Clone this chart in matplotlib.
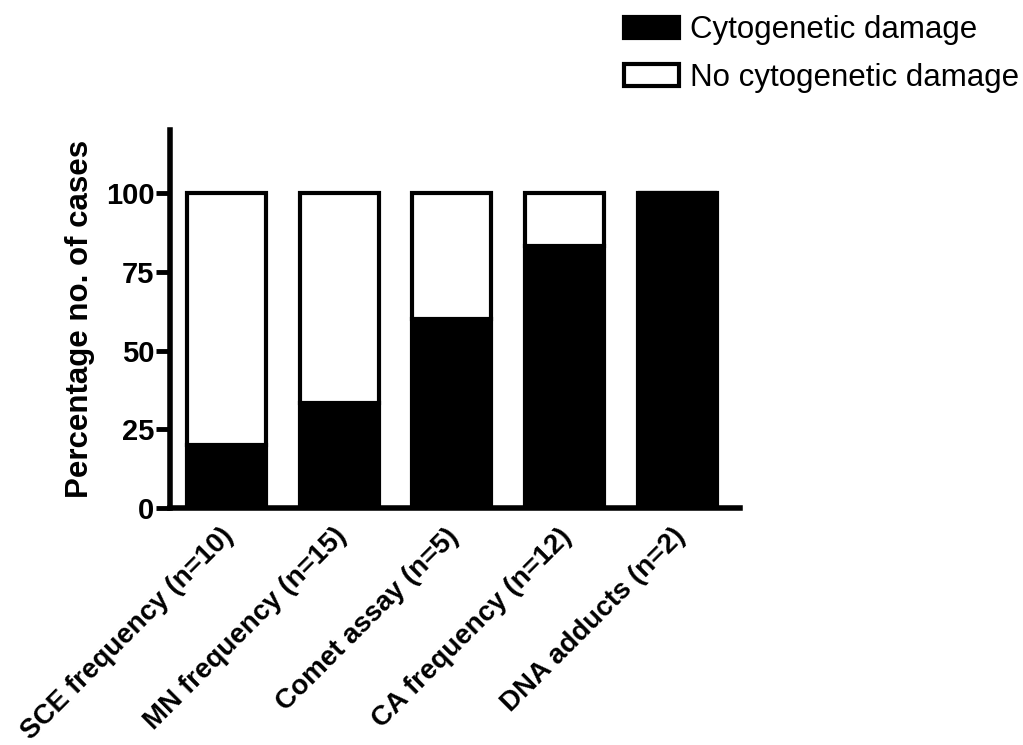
import matplotlib.pyplot as plt
import matplotlib.transforms as mtransforms
import numpy as np

plt.rcParams['font.family'] = ['Liberation Sans', 'DejaVu Sans']

# data
categories = ['SCE frequency', 'MN frequency', 'Comet assay', 'CA frequency', 'DNA adducts']
n_cases = [10, 15, 5, 12, 2]
damage = [20, 33.3, 60, 83.3, 100]
no_damage = [100 - d for d in damage]

labels = [f'{c} (n={n})' for c, n in zip(categories, n_cases)]

fig = plt.figure(figsize=(10.23, 7.45), dpi=100)
ax = fig.add_axes([0.166, 0.318, 0.557, 0.507])

x = np.arange(len(categories))
b1 = ax.bar(x, damage, width=0.7, color='black', edgecolor='black', linewidth=3,
            label='Cytogenetic damage')
b2 = ax.bar(x, no_damage, bottom=damage, width=0.7, color='white', edgecolor='black',
            linewidth=3, label='No cytogenetic damage')

ax.set_xlim(-0.5, 4.55)
ax.set_ylim(0, 120)
ax.set_yticks([0, 25, 50, 75, 100])
ax.set_yticklabels(['0', '25', '50', '75', '100'], fontsize=21, fontweight='bold')
ax.set_xticks(x)
ax.set_xticklabels(labels, rotation=45, ha='right', rotation_mode='anchor',
                   fontsize=20, fontweight='bold')
ax.tick_params(axis='x', length=0, pad=11)
ax.tick_params(axis='y', length=10, width=3.5, pad=1)
ax.set_ylabel('Percentage no. of cases', fontsize=22.5, fontweight='bold', labelpad=8)

# nudge the rotated labels a bit to the left
shift = mtransforms.ScaledTranslation(-6 / 100, 0, fig.dpi_scale_trans)
for lbl in ax.get_xticklabels():
    lbl.set_transform(lbl.get_transform() + shift)

for s in ['top', 'right']:
    ax.spines[s].set_visible(False)
for s in ['left', 'bottom']:
    ax.spines[s].set_linewidth(4)

fig.legend(handles=[b1, b2], loc='upper right', bbox_to_anchor=(1.008, 0.996),
           frameon=False, fontsize=22.5, handlelength=1.75, handleheight=0.7,
           handletextpad=0.35, labelspacing=0.56, borderaxespad=0)

fig.savefig('out.png', dpi=100)
